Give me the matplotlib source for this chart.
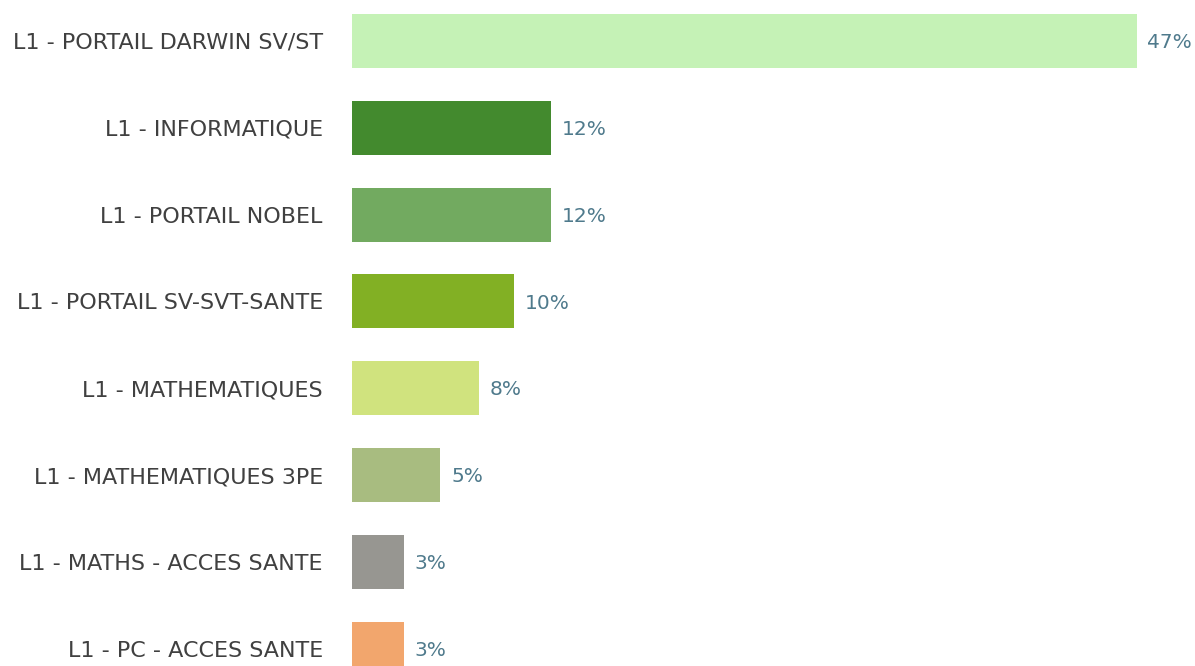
import matplotlib
matplotlib.use("Agg")
import matplotlib.pyplot as plt

categories = ["L1 - PORTAIL DARWIN SV/ST", "L1 - INFORMATIQUE", "L1 - PORTAIL NOBEL",
              "L1 - PORTAIL SV-SVT-SANTE", "L1 - MATHEMATIQUES", "L1 - MATHEMATIQUES 3PE",
              "L1 - MATHS - ACCES SANTE", "L1 - PC - ACCES SANTE"]
values = [47.0, 11.9, 11.9, 9.7, 7.6, 5.3, 3.1, 3.1]
colors = ["#C5F2B6", "#438A2E", "#72AA60", "#82B024", "#D0E37E", "#A8BC80", "#979691", "#F2A66D"]

fig = plt.figure(figsize=(11.95, 6.66), dpi=100)
ax = fig.add_axes([352 / 1195, 0, 843 / 1195, 1])

y = list(range(len(categories)))
ax.barh(y, values, height=0.62, color=colors)

for yi, v in zip(y, values):
    ax.text(v + 0.65, yi + 0.02, f"{v:.0f}%", va="center", ha="left",
            fontsize=14.5, color="#4F7A8C")

ax.set_yticks(y)
ax.set_yticklabels(categories, fontsize=16, color="#404040")
ax.tick_params(axis="y", length=0, pad=21)
ax.set_xticks([])
ax.set_xlim(0, 50.5)
ax.set_ylim(7.2, -0.472)
for s in ax.spines.values():
    s.set_visible(False)

fig.savefig("out.png", dpi=100)
